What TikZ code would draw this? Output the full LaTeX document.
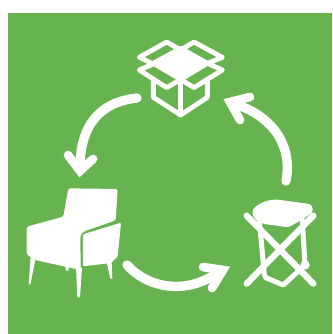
\documentclass[tikz,border=0pt]{standalone}
\usepackage{xcolor}
\definecolor{leaf}{HTML}{67B34F}
\begin{document}
\begin{tikzpicture}[x=0.03cm,y=-0.03cm]
\tikzset{
  ar/.style={draw=white,line width=2.8mm,line cap=round},
  hd/.style={draw=white,line width=2.6mm,line cap=round,line join=miter,miter limit=10},
  bx/.style={draw=white,line width=1.45mm,line join=round,line cap=round},
  xx/.style={draw=white,line width=1.9mm,line cap=round,line join=round}
}
\useasboundingbox (0,0) rectangle (332,334);
\fill[leaf] (8,13) rectangle (332,334);
% box
\begin{scope}[shift={(120,20)},scale=1/3]
\fill[white,bx] (100,130) -- (182,85) -- (262,130) -- (182,178) -- cycle;
\draw[bx] (182,90) -- (140,66) -- (58,112) -- (100,132) -- (58,150) -- (140,203) -- (182,178) -- (222,203) -- (307,150) -- (262,130) -- (307,112) -- (222,66) -- (182,90);
\draw[bx] (100,182) -- (100,232) -- (182,285) -- (262,232) -- (262,182);
\draw[bx] (182,178) -- (182,285);
\end{scope}
% chair
\begin{scope}[shift={(15,175)},scale=1/3]
\fill[white,rounded corners=2pt] (160,40) -- (308,42) -- (302,136) -- (205,170) -- (196,180) -- (197,285) -- (60,255) -- (35,238) -- (35,155) -- (145,125) -- cycle;
\fill[white,rounded corners=1pt] (204,178) -- (318,143) -- (308,245) -- (288,264) -- (204,274) -- cycle;
\fill[white] (47,245) -- (61,255) -- (46,328) -- (41,328) -- cycle;
\fill[white] (150,270) -- (162,272) -- (160,287) -- (153,287) -- cycle;
\fill[white] (183,278) -- (201,278) -- (195,367) -- (187,367) -- cycle;
\fill[white] (275,262) -- (290,260) -- (292,311) -- (286,311) -- cycle;
\end{scope}
% bin
\begin{scope}[shift={(225,185)},scale=1/3]
\fill[white,rounded corners=2pt] (82,75) .. controls (105,50) and (140,42) .. (165,45) -- (255,57) -- (264,68) -- (262,82) -- (235,102) -- (190,127) -- (112,116) -- (85,98) -- cycle;
\draw[xx] (65,92) -- (265,296);
\draw[xx] (265,92) -- (65,296);
\draw[xx,line width=1.5mm] (103,105) -- (118,268) -- (122,278) -- (175,300) -- (240,240) -- (232,105);
\fill[white] (240,240) circle (14);
\end{scope}
% arrows
\coordinate (b1) at (137,98);
\coordinate (c1) at (80,168);
\coordinate (c2) at (127,265);
\coordinate (t2) at (221,270);
\coordinate (t3) at (286,181);
\coordinate (b3) at (232,103);
\draw[ar] (b1) .. controls (100,102) and (80,125) .. (c1);
\draw[ar] (c2) .. controls (150,290) and (190,295) .. (t2);
\draw[ar] (t3) .. controls (293,145) and (272,115) .. (b3);
\draw[hd] (68,155) -- (80,171) -- (93,159);
\draw[hd] (203,267) -- (223,270) -- (212,288);
\draw[hd] (250,97) -- (230,102) -- (240,120);
\end{tikzpicture}
\end{document}
